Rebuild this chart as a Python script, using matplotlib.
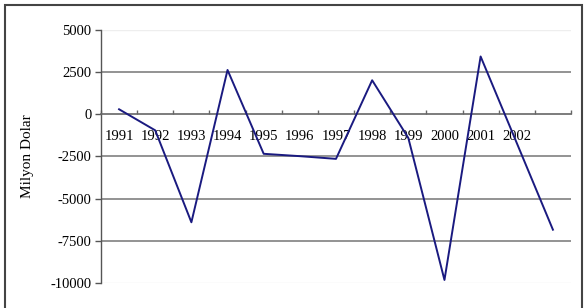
import matplotlib
matplotlib.use("Agg")
import matplotlib.pyplot as plt
from matplotlib.patches import Rectangle

categories = ['1991', '1992', '1993', '1994', '1995', '1996', '1997',
              '1998', '1999', '2000', '2001', '2002', '']
values = [300, -950, -6400, 2630, -2340, -2480, -2640,
          2020, -1400, -9820, 3430, -1700, -6840]
yticks = [5000, 2500, 0, -2500, -5000, -7500, -10000]
ylabel = 'Milyon Dolar'

plt.rcParams['font.family'] = ['Liberation Serif', 'DejaVu Serif']

fig = plt.figure(figsize=(5.86, 3.08), dpi=100)
ax = fig.add_axes([101/586, 1-283/308, 470/586, 253/308])

x = list(range(len(categories)))
ax.plot(x, values, color='#1a1a80', linewidth=1.4, zorder=3)

ax.set_xlim(-0.5, len(categories) - 0.5)
ax.set_ylim(-10000, 5000)

# gridlines
for v in yticks:
    if v in (5000, -10000):
        ax.axhline(v, color='#eeeeee', linewidth=1.0, zorder=1)
    elif v != 0:
        ax.axhline(v, color='#808080', linewidth=1.2, zorder=1)

ax.set_yticks(yticks)
ax.set_yticklabels([str(v) for v in yticks], fontsize=10.5)
ax.tick_params(axis='y', direction='out', length=4, width=1, color='#555555', pad=3)

for s in ['top', 'right']:
    ax.spines[s].set_visible(False)
ax.spines['left'].set_color('#555555')
ax.spines['left'].set_linewidth(1.0)
ax.spines['bottom'].set_position(('data', 0))
ax.spines['bottom'].set_color('#666666')
ax.spines['bottom'].set_linewidth(1.2)

# boundary ticks on the zero axis
ax.set_xticks([i - 0.5 for i in range(len(categories) + 1)])
ax.set_xticklabels([])
ax.tick_params(axis='x', which='major', direction='in', length=3, width=1, color='#666666')
ax.set_xticks(x, minor=True)
ax.set_xticklabels(categories, minor=True, fontsize=10.5)
ax.tick_params(axis='x', which='minor', length=0, pad=11)

fig.text(28/586, 1-156/308, ylabel, rotation=90, fontsize=11, ha='center', va='center')

fig.patches.append(Rectangle((5/586, -0.1), 577/586, 1.1 - 5/308, transform=fig.transFigure,
                             fill=False, edgecolor='#444444', linewidth=1.5, clip_on=False))

fig.savefig('out.png', dpi=100)
